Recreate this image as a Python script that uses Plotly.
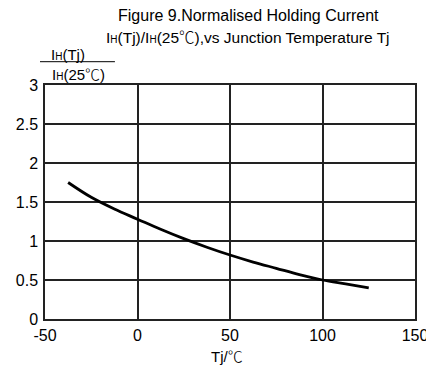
import plotly.graph_objects as go

# Data
tj = [-37.5, -25, -12.5, 0, 12.5, 25, 37.5, 50, 62.5, 75, 87.5, 100, 112.5, 125]
ih_ratio = [1.75, 1.56, 1.41, 1.28, 1.15, 1.03, 0.92, 0.82, 0.73, 0.65, 0.57, 0.5, 0.45, 0.4]

x_ticks = [-50, 0, 50, 100, 150]
x_ticktext = ["-50", "0", "50", "100", "150"]
y_ticks = [0, 0.5, 1, 1.5, 2, 2.5, 3]
y_ticktext = ["0", "0.5", "1", "1.5", "2", "2.5", "3"]

FONT = "Liberation Sans, Arial, sans-serif"
CJK = "font-family:'Noto Sans CJK SC';font-weight:300"
SUB_H = "<span style='font-size:10px'>H</span>"
DEG = f"<span style=\"{CJK}\">℃</span>"

fig = go.Figure()
fig.add_trace(go.Scatter(x=tj, y=ih_ratio, mode="lines",
                         line=dict(color="black", width=2.8, shape="spline", smoothing=1.0),
                         showlegend=False, hoverinfo="skip"))

fig.update_layout(
    width=426, height=370,
    margin=dict(l=45, r=11, t=85, b=51, autoexpand=False),
    paper_bgcolor="white", plot_bgcolor="white",
    font=dict(family=FONT, color="black", size=15),
    xaxis=dict(range=[-50, 150], tickvals=x_ticks, ticktext=x_ticktext, showgrid=True,
               gridcolor="#222", gridwidth=1.5, zeroline=False,
               showline=True, linecolor="#222", linewidth=1.5, mirror=True,
               ticks="", tickfont=dict(size=16), ticklabelstandoff=1,
               ticklabeloverflow="allow", automargin=False),
    yaxis=dict(range=[0, 3], tickvals=y_ticks, ticktext=y_ticktext, showgrid=True,
               gridcolor="#222", gridwidth=1.5, zeroline=False,
               showline=True, linecolor="#222", linewidth=1.5, mirror=True,
               ticks="", tickfont=dict(size=16), ticklabelstandoff=2,
               automargin=False),
)

# Title (two lines)
fig.add_annotation(text="Figure 9.Normalised Holding Current",
                   xref="paper", yref="paper", x=0.549, y=1.299,
                   xanchor="center", yanchor="middle", showarrow=False,
                   font=dict(size=16))
fig.add_annotation(text=f"I{SUB_H}(Tj)/I{SUB_H}(25{DEG}),vs Junction Temperature Tj",
                   xref="paper", yref="paper", x=0.549, y=1.209,
                   xanchor="center", yanchor="middle", showarrow=False,
                   font=dict(size=15.5))

# Fraction-style y-axis label
fig.add_annotation(text=f"I{SUB_H}(Tj)",
                   xref="paper", yref="paper", x=0.062, y=1.132,
                   xanchor="center", yanchor="middle", showarrow=False,
                   font=dict(size=15))
fig.add_annotation(text=f"I{SUB_H}(25{DEG})",
                   xref="paper", yref="paper", x=0.0135, y=1.051,
                   xanchor="left", yanchor="middle", showarrow=False,
                   font=dict(size=15))
fig.add_shape(type="line", xref="paper", yref="paper",
              x0=-0.0135, x1=0.189, y0=1.0996, y1=1.0996,
              line=dict(color="black", width=1))

# x-axis title
fig.add_annotation(text=f"Tj/{DEG}",
                   xref="paper", yref="paper", x=0.492, y=-0.154,
                   xanchor="center", yanchor="middle", showarrow=False,
                   font=dict(size=15))

fig.write_html("out.html")
